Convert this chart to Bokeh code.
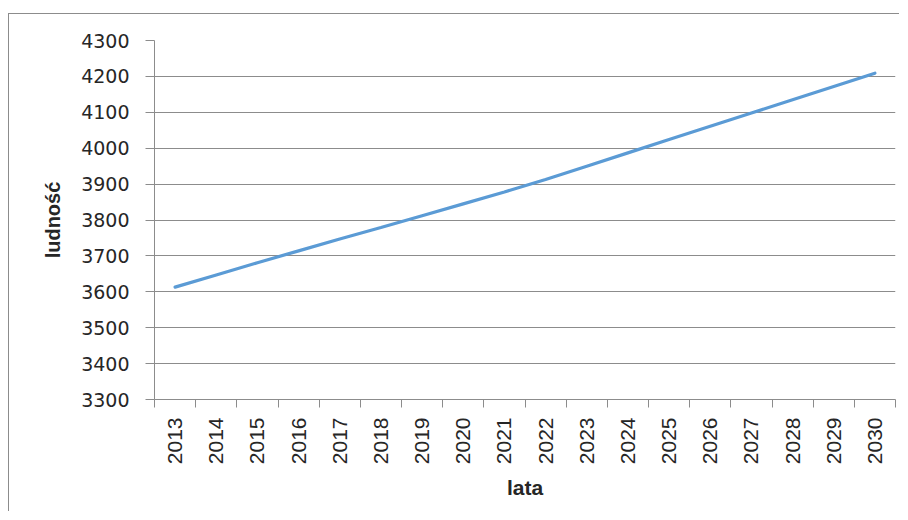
import math
from bokeh.plotting import figure
from bokeh.models import FixedTicker, Range1d
from bokeh.embed import file_html
from bokeh.resources import INLINE

# ---- data ----
years = [2013, 2014, 2015, 2016, 2017, 2018, 2019, 2020, 2021,
         2022, 2023, 2024, 2025, 2026, 2027, 2028, 2029, 2030]
population = [3613, 3647, 3681, 3714, 3747, 3779, 3812, 3845, 3878,
              3913, 3950, 3987, 4024, 4061, 4098, 4135, 4172, 4209]
y_ticks = [3300, 3400, 3500, 3600, 3700, 3800, 3900, 4000, 4100, 4200, 4300]
x_title = "lata"
y_title = "ludność"

GRAY = "#8c8c8c"
TEXT = "#262626"

boundaries = [y - 0.5 for y in years] + [years[-1] + 0.5]

p = figure(width=891, height=498,
           x_range=Range1d(years[0] - 0.5, years[-1] + 0.5),
           y_range=Range1d(y_ticks[0], y_ticks[-1]),
           output_backend="svg", toolbar_location=None,
           min_border_left=145, min_border_right=5,
           min_border_top=26, min_border_bottom=113)
p.styles = {"margin-top": "13px", "margin-left": "8px",
            "border-top": "1px solid " + GRAY,
            "border-left": "1px solid " + GRAY}
p.outline_line_color = None
p.background_fill_color = "white"
p.border_fill_color = "white"

p.line(years, population, line_color="#5B9BD5", line_width=3.2, line_cap="round")

# x axis
xa = p.xaxis[0]
xa.ticker = FixedTicker(ticks=years, minor_ticks=boundaries)
xa.axis_line_color = GRAY
xa.major_tick_out = 0
xa.major_tick_in = 0
xa.minor_tick_out = 8
xa.minor_tick_in = 0
xa.minor_tick_line_color = GRAY
xa.major_label_orientation = math.pi / 2
xa.major_label_standoff = 10
xa.major_label_text_font = "Liberation Sans"
xa.major_label_text_font_size = "21px"
xa.major_label_text_color = TEXT
xa.axis_label = x_title
xa.axis_label_text_font = "Liberation Sans"
xa.axis_label_text_font_style = "bold"
xa.axis_label_text_font_size = "21px"
xa.axis_label_text_color = TEXT
xa.axis_label_standoff = 9

# y axis
ya = p.yaxis[0]
ya.ticker = FixedTicker(ticks=y_ticks)
ya.axis_line_color = GRAY
ya.major_tick_out = 9
ya.major_tick_in = 0
ya.major_tick_line_color = GRAY
ya.minor_tick_out = 0
ya.minor_tick_in = 0
ya.major_label_standoff = 16
ya.major_label_text_font = "DejaVu Sans"
ya.major_label_text_font_size = "19px"
ya.major_label_text_color = TEXT
ya.axis_label = y_title
ya.axis_label_text_font = "Liberation Sans"
ya.axis_label_text_font_style = "bold"
ya.axis_label_text_font_size = "20px"
ya.axis_label_text_color = TEXT
ya.axis_label_standoff = 14

p.xgrid.grid_line_color = None
p.ygrid.ticker = FixedTicker(ticks=y_ticks)
p.ygrid.grid_line_color = GRAY
p.ygrid.grid_line_width = 1

open("out.html", "w").write(file_html(p, INLINE))
